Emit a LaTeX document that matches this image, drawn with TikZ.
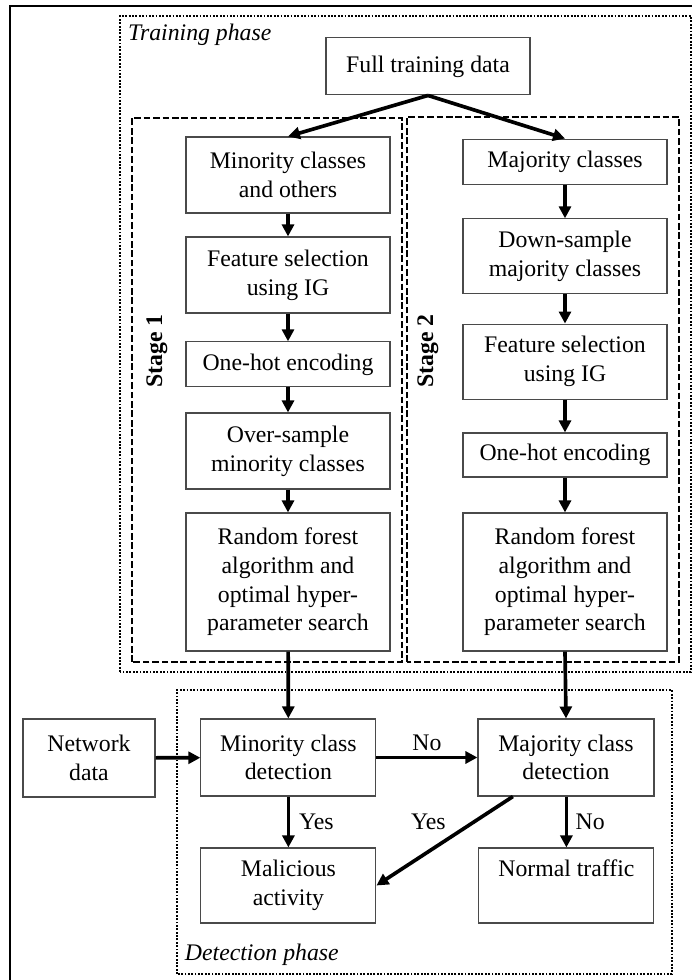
\documentclass[tikz,border=0pt]{standalone}
\usepackage{fontspec}
\setmainfont{Liberation Serif}
\usepackage{tikz}
\usetikzlibrary{arrows.meta,calc}
\definecolor{Ink}{HTML}{000000}
\definecolor{Edge}{HTML}{4A4A4A}

\begin{document}
\begin{tikzpicture}[
  txt/.style={font=\fontsize{16.9}{20.4}\selectfont,color=Ink},
  box/.style={txt,draw=Edge,line width=0.8pt,fill=white,align=center,minimum width=5.1cm,inner sep=2pt},
  flow/.style={-{Triangle[length=8.5pt,width=8.5pt]},line width=2.6pt,color=Ink},
  stagebox/.style={draw=Ink,line width=1.4pt,dash pattern=on 4.7pt off 2pt},
  phasebox/.style={draw=Ink,line width=1.5pt,dash pattern=on 1.3pt off 1.1pt},
  stagetag/.style={txt,font=\fontsize{16.9}{20.4}\selectfont\bfseries,rotate=90},
  phasetag/.style={txt,font=\fontsize{16.9}{20.4}\selectfont\itshape,anchor=west}
]
\useasboundingbox (0,0) rectangle (17.3,24.5);
% Outer frame, cut off at the right and at the bottom.
\draw[Ink,line width=1.4pt] (17.5,24.35)--(0.25,24.35)--(0.25,-0.2);

% Phase and stage frames.
\draw[phasebox] (3.0,7.7) rectangle (17.275,24.1);
\draw[phasebox] (4.425,0.15) rectangle (16.8,7.25);
\draw[stagebox] (3.3,7.95) rectangle (10.05,21.55);
\draw[stagebox] (10.175,7.95) rectangle (16.975,21.575);
\node[phasetag] (trainlbl) at (3.08,23.64) {Training phase};
\node[phasetag] (detectlbl) at (4.5,0.64) {Detection phase};
\node[stagetag] (st1) at (3.925,15.725) {Stage 1};
\node[stagetag] (st2) at (10.7,15.725) {Stage 2};

% Training phase.
\node[box,minimum height=1.425cm] (full) at (10.70,22.84) {Full training data};

% Stage 1.
\node[box,minimum height=1.9cm] (min) at (7.20,20.125) {Minority classes\\and others};
\node[box,minimum height=1.9cm] (feat1) at (7.20,17.625) {Feature selection\\using IG};
\node[box,minimum height=1.125cm] (hot1) at (7.20,15.39) {One-hot encoding};
\node[box,minimum height=1.9cm] (over) at (7.20,13.225) {Over-sample\\minority classes};
\node[box,minimum height=3.45cm] (rf1) at (7.20,9.95)
  {Random forest\\algorithm and\\optimal hyper-\\parameter search};

% Stage 2.
\node[box,minimum height=1.125cm] (maj) at (14.125,20.46) {Majority classes};
\node[box,minimum height=1.875cm] (down) at (14.125,18.09) {Down-sample\\majority classes};
\node[box,minimum height=1.875cm] (feat2) at (14.125,15.46) {Feature selection\\using IG};
\node[box,minimum height=1.1cm] (hot2) at (14.125,13.125) {One-hot encoding};
\node[box,minimum height=3.45cm] (rf2) at (14.125,9.95)
  {Random forest\\algorithm and\\optimal hyper-\\parameter search};

% Detection phase.
\node[box,minimum width=3.3cm,minimum height=1.95cm] (net) at (2.225,5.55) {Network\\data};
\node[box,minimum width=4.375cm,minimum height=1.925cm] (mindet) at (7.21,5.5625) {Minority class\\detection};
\node[box,minimum width=4.4cm,minimum height=1.925cm] (majdet) at (14.15,5.5625) {Majority class\\detection};
\node[box,minimum width=4.375cm,minimum height=1.875cm] (mal) at (7.21,2.3625) {Malicious\\activity};
\node[box,minimum width=4.375cm,minimum height=1.875cm] (norm) at (14.16,2.3625) {Normal traffic\\\phantom{y}};
\coordinate (majfoot) at ($(majdet.south west)!0.2!(majdet.south east)$);

\draw[flow] (full.south)--(min.north);
\draw[flow] (full.south)--(maj.north);
\draw[flow] (min)--(feat1);
\draw[flow] (feat1)--(hot1);
\draw[flow] (hot1)--(over);
\draw[flow] (over)--(rf1);
\draw[flow] (maj)--(down);
\draw[flow] (down)--(feat2);
\draw[flow] (feat2)--(hot2);
\draw[flow] (hot2)--(rf2);
\draw[flow] (rf1)--(mindet);
\draw[flow] (rf2.south)--(majdet.north);
\draw[flow] (net)--(mindet);
\draw[flow] (mindet)--node[txt,above] (nolbl1) {No} (majdet);
\draw[flow] (mindet)--node[txt,right,xshift=3pt] (yeslbl1) {Yes} (mal);
\draw[flow] (majfoot)--(mal.east);
\node[txt] (yeslbl2) at ($(yeslbl1)+(2.8,0)$) {Yes};
\draw[flow] (majdet.south-|norm.north)--node[txt,right,xshift=2pt] (nolbl2) {No} (norm.north);
\end{tikzpicture}
\end{document}
